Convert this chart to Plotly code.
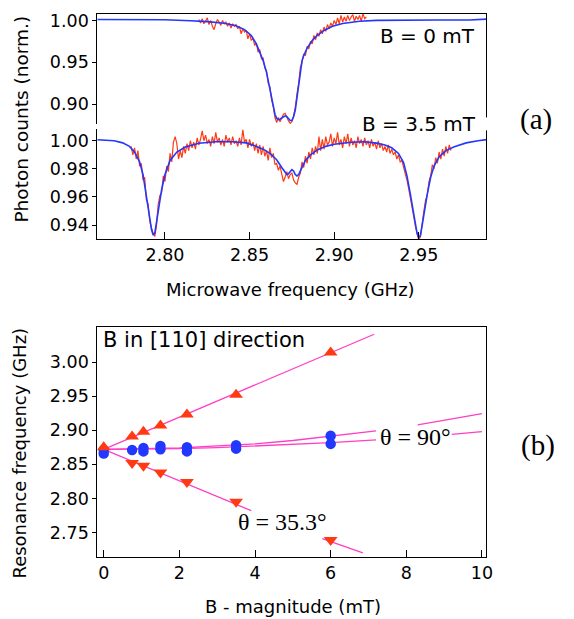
import numpy as np
import plotly.graph_objects as go

W, H = 574, 619

# ---------------- Panel (a): ODMR spectra ----------------
# B = 0 mT measured data (1 MHz sampling starting at 2.820 GHz)
red0_start = 2.820
red0_vals = [
    1.001, 0.997, 1.002, 0.996, 0.999, 1.003, 0.995, 1.000, 0.993, 0.989,
    0.996, 1.001, 0.998, 0.994, 1.000, 0.996, 0.998, 0.993, 0.997, 0.991,
    0.996, 0.993, 0.995, 0.990, 0.993, 0.984, 0.990, 0.986, 0.988, 0.978,
    0.984, 0.976, 0.979, 0.970, 0.973, 0.962, 0.965, 0.954, 0.955, 0.943,
    0.940, 0.925, 0.921, 0.905, 0.897, 0.884, 0.878, 0.884, 0.879, 0.883,
    0.888, 0.889, 0.884, 0.880, 0.877, 0.879, 0.886, 0.896, 0.912, 0.925,
    0.944, 0.950, 0.960, 0.958, 0.969, 0.966, 0.975, 0.972, 0.982, 0.977,
    0.985, 0.981, 0.989, 0.984, 0.992, 0.987, 0.995, 0.990, 0.997, 0.993,
    1.000, 0.995, 1.003, 0.996, 1.006, 0.998, 1.004, 0.999, 1.006, 1.000,
    1.004, 1.007, 0.999, 1.005, 1.001, 1.006, 0.999, 1.008, 1.002, 1.004,
]
# B = 0 mT fit
fit0_f = [2.760, 2.780, 2.800, 2.815, 2.825, 2.835, 2.842, 2.847, 2.851, 2.854,
          2.856, 2.858, 2.860, 2.862, 2.8635, 2.865, 2.866, 2.867, 2.868, 2.869,
          2.870, 2.871, 2.872, 2.873, 2.874, 2.875, 2.876, 2.877, 2.878, 2.879,
          2.880, 2.881, 2.882, 2.884, 2.887, 2.890, 2.894, 2.899, 2.905, 2.915,
          2.925, 2.940, 2.960, 2.980, 2.990]
fit0_v = [1.0010, 1.0010, 1.0008, 0.9995, 0.9985, 0.9965, 0.9935, 0.9890, 0.9820, 0.9720,
          0.9630, 0.9520, 0.9380, 0.9200, 0.9030, 0.8880, 0.8830, 0.8815, 0.8820, 0.8835,
          0.8850, 0.8860, 0.8850, 0.8825, 0.8805, 0.8805, 0.8850, 0.8930, 0.9080, 0.9270,
          0.9420, 0.9520, 0.9580, 0.9670, 0.9760, 0.9820, 0.9880, 0.9930, 0.9962, 0.9990,
          1.0000, 1.0005, 1.0005, 1.0005, 1.0015]

# B = 3.5 mT measured data (1 MHz sampling starting at 2.780 GHz)
red35_start = 2.780
red35_vals = [
    0.996, 0.990, 0.995, 0.987, 0.993, 0.982, 0.984, 0.972, 0.974, 0.958,
    0.955, 0.943, 0.938, 0.934, 0.932, 0.940, 0.955, 0.961, 0.963, 0.975,
    0.971, 0.982, 0.978, 0.991, 0.985, 0.999, 1.003, 0.998, 0.987, 0.993,
    0.988, 0.996, 0.991, 0.998, 0.993, 1.000, 0.995, 0.999, 0.994, 1.002,
    0.997, 1.001, 1.007, 1.000, 1.004, 0.998, 1.001, 0.996, 1.003, 0.998,
    1.006, 0.999, 1.002, 0.997, 1.001, 0.996, 1.004, 0.999, 1.002, 0.997,
    1.003, 0.998, 1.000, 0.996, 1.002, 0.997, 1.008, 0.999, 1.001, 0.995,
    1.001, 0.996, 0.999, 0.993, 0.998, 0.991, 0.997, 0.990, 0.996, 0.989,
    0.993, 0.986, 0.995, 0.988, 0.991, 0.983, 0.984, 0.979, 0.982, 0.975,
    0.971, 0.974, 0.978, 0.973, 0.976, 0.977, 0.972, 0.970, 0.969, 0.974,
    0.977, 0.985, 0.981, 0.989, 0.984, 0.992, 0.987, 0.995, 0.990, 0.996,
    0.991, 1.003, 0.993, 1.001, 0.994, 1.003, 0.997, 0.999, 1.005, 0.996,
    1.002, 0.998, 1.006, 0.997, 1.001, 0.995, 1.003, 0.998, 1.005, 0.996,
    1.002, 0.997, 1.000, 0.995, 1.003, 0.998, 1.001, 0.996, 1.002, 0.997,
    1.000, 0.995, 1.001, 0.996, 0.999, 0.994, 1.000, 0.995, 0.998, 0.993,
    0.996, 0.992, 0.997, 0.991, 0.994, 0.990, 0.992, 0.987, 0.990, 0.985,
    0.986, 0.981, 0.977, 0.972, 0.966, 0.960, 0.952, 0.946, 0.939, 0.933,
    0.929, 0.932, 0.943, 0.950, 0.958, 0.961, 0.971, 0.975, 0.983, 0.980,
    0.988, 0.984, 0.992, 0.987, 0.994, 0.989, 0.996, 0.991, 0.997, 0.993,
]
# B = 3.5 mT fit
fit35_f = [2.760, 2.770, 2.775, 2.779, 2.782, 2.785, 2.787, 2.789, 2.791, 2.792,
           2.793, 2.794, 2.795, 2.796, 2.798, 2.800, 2.803, 2.807, 2.812, 2.820,
           2.830, 2.840, 2.848, 2.853, 2.858, 2.862, 2.866, 2.869, 2.871, 2.872,
           2.873, 2.874, 2.875, 2.876, 2.877, 2.878, 2.879, 2.881, 2.883, 2.886,
           2.890, 2.895, 2.900, 2.910, 2.918, 2.925, 2.930, 2.934, 2.938, 2.941,
           2.943, 2.945, 2.947, 2.948, 2.949, 2.950, 2.951, 2.952, 2.953, 2.955,
           2.957, 2.959, 2.962, 2.966, 2.971, 2.978, 2.985, 2.990]
fit35_v = [1.0007, 1.0000, 0.9985, 0.9960, 0.9920, 0.9850, 0.9760, 0.9620, 0.9450, 0.9370,
           0.9330, 0.9345, 0.9420, 0.9510, 0.9650, 0.9760, 0.9860, 0.9920, 0.9955, 0.9982,
           0.9993, 0.9993, 0.9985, 0.9965, 0.9940, 0.9910, 0.9865, 0.9810, 0.9770, 0.9760,
           0.9765, 0.9785, 0.9795, 0.9785, 0.9760, 0.9750, 0.9760, 0.9810, 0.9860, 0.9900,
           0.9935, 0.9960, 0.9975, 0.9990, 0.9993, 0.9983, 0.9970, 0.9950, 0.9910, 0.9845,
           0.9750, 0.9620, 0.9480, 0.9410, 0.9340, 0.9310, 0.9330, 0.9400, 0.9480, 0.9620,
           0.9740, 0.9820, 0.9885, 0.9930, 0.9958, 0.9985, 1.0000, 1.0008]

freq_ticks = [2.80, 2.85, 2.90, 2.95]
top_ticks = [0.90, 0.95, 1.00]
bot_ticks = [0.94, 0.96, 0.98, 1.00]

# ---------------- Panel (b): resonance frequency vs B ----------------
B_up = [0.0, 0.75, 1.05, 1.5, 2.2, 3.5, 6.0]
f_up = [2.875, 2.891, 2.898, 2.907, 2.923, 2.952, 3.014]
B_dn = [0.75, 1.05, 1.5, 2.2, 3.5, 6.0]
f_dn = [2.852, 2.848, 2.838, 2.824, 2.795, 2.739]
B_90 = [0.0, 0.0, 0.75, 1.05, 1.05, 1.5, 1.5, 2.2, 2.2, 3.5, 3.5, 6.0, 6.0]
f_90 = [2.871, 2.866, 2.871, 2.874, 2.869, 2.877, 2.872, 2.875, 2.869, 2.878, 2.873, 2.892, 2.880]

# theory curves (gaps where labels sit)
line_up_B = [0, 1, 2, 3, 4, 5, 6, 7.15]
line_up_f = [2.872, 2.8955, 2.919, 2.943, 2.966, 2.990, 3.014, 3.041]
line_dn_B = [0, 1, 2, 3, 3.9, None, 5.78, 6.85]
line_dn_f = [2.872, 2.849, 2.826, 2.803, 2.782, None, 2.741, 2.720]
line_90a_B = [0, 1, 2, 3, 4, 5, 6, 7.2, None, 8.3, 9, 10]
line_90a_f = [2.872, 2.8725, 2.874, 2.877, 2.880, 2.885, 2.891, 2.899, None, 2.908, 2.915, 2.9245]
line_90b_B = [0, 1, 2, 3, 4, 5, 6, 7.2, None, 9.2, 10]
line_90b_f = [2.872, 2.8723, 2.873, 2.8745, 2.877, 2.879, 2.882, 2.886, None, 2.894, 2.898]

B_ticks = [0, 2, 4, 6, 8, 10]
res_ticks = [2.75, 2.80, 2.85, 2.90, 2.95, 3.00]

RED = "#ff3a12"
BLUE = "#2238ff"
PINK = "#ff3fc4"


def px(x):
    return x / W


def py(y):
    return 1 - y / H


red0_f = red0_start + 0.001 * np.arange(len(red0_vals))
red35_f = red35_start + 0.001 * np.arange(len(red35_vals))

fig = go.Figure()
# top spectrum (B = 0)
fig.add_trace(go.Scatter(x=red0_f, y=red0_vals, mode="lines", line=dict(color=RED, width=1.2),
                         xaxis="x2", yaxis="y2"))
fig.add_trace(go.Scatter(x=fit0_f, y=fit0_v, mode="lines", line=dict(color=BLUE, width=1.6),
                         xaxis="x2", yaxis="y2"))
# bottom spectrum (B = 3.5)
fig.add_trace(go.Scatter(x=red35_f, y=red35_vals, mode="lines", line=dict(color=RED, width=1.2),
                         xaxis="x", yaxis="y"))
fig.add_trace(go.Scatter(x=fit35_f, y=fit35_v, mode="lines", line=dict(color=BLUE, width=1.6),
                         xaxis="x", yaxis="y"))
# panel b lines
for bx, fy in [(line_up_B, line_up_f), (line_dn_B, line_dn_f),
               (line_90a_B, line_90a_f), (line_90b_B, line_90b_f)]:
    fig.add_trace(go.Scatter(x=bx, y=fy, mode="lines", line=dict(color=PINK, width=1.3),
                             connectgaps=False, xaxis="x3", yaxis="y3"))
# panel b markers
fig.add_trace(go.Scatter(x=B_90, y=f_90, mode="markers",
                         marker=dict(symbol="circle", size=10.5, color=BLUE),
                         xaxis="x3", yaxis="y3"))
fig.add_trace(go.Scatter(x=B_up, y=f_up, mode="markers",
                         marker=dict(symbol="triangle-up", size=12, color=RED),
                         xaxis="x3", yaxis="y3"))
fig.add_trace(go.Scatter(x=B_dn, y=f_dn, mode="markers",
                         marker=dict(symbol="triangle-down", size=12, color=RED),
                         xaxis="x3", yaxis="y3"))

xdom = [px(98.5), px(492.5)]
common_axis = dict(showline=True, linecolor="black", linewidth=1, showgrid=False,
                   zeroline=False, tickcolor="black", tickfont=dict(size=17.5))

fig.update_layout(
    width=W, height=H, margin=dict(l=0, r=0, t=0, b=0),
    paper_bgcolor="white", plot_bgcolor="white", showlegend=False,
    font=dict(family="DejaVu Sans", size=17.5, color="black"),
    xaxis=dict(domain=xdom, anchor="y", range=[2.76, 2.99], tickvals=freq_ticks,
               tickformat=".2f", ticks="inside", ticklen=7, ticklabelstandoff=0, **common_axis),
    yaxis=dict(domain=[py(237), py(127)], anchor="x", range=[0.9302, 1.0081],
               tickvals=bot_ticks, tickformat=".2f", ticks="outside", ticklen=4,
               mirror=True, **common_axis),
    xaxis2=dict(domain=xdom, anchor="y2", matches="x", side="top", showticklabels=False,
                ticks="", **common_axis),
    yaxis2=dict(domain=[py(122), py(11)], anchor="x2", range=[0.8758, 1.0077],
                tickvals=top_ticks, tickformat=".2f", ticks="outside", ticklen=4,
                mirror=True, **common_axis),
    xaxis3=dict(domain=xdom, anchor="y3", range=[-0.17, 10.12], tickvals=B_ticks,
                ticks="inside", ticklen=7, mirror=True, ticklabelstandoff=0, **common_axis),
    yaxis3=dict(domain=[py(557), py(326)], anchor="x3", range=[2.7135, 3.051],
                tickvals=res_ticks, tickformat=".2f", ticks="outside", ticklen=4,
                mirror=True, **common_axis),
)

# white gap in the right border behind "B = 3.5 mT"
fig.add_shape(type="rect", xref="paper", yref="paper", x0=px(486), x1=px(499),
              y0=py(128), y1=py(115), fillcolor="white", line=dict(width=0), layer="above")

sans = "DejaVu Sans"
serif = "Liberation Serif"
ann = [
    dict(text="B = 0 mT", x=px(433), y=py(33), font=dict(family=sans, size=20)),
    dict(text="B = 3.5 mT", x=px(424), y=py(122), font=dict(family=sans, size=20)),
    dict(text="(a)", x=px(543), y=py(117), font=dict(family=serif, size=29)),
    dict(text="(b)", x=px(545), y=py(445), font=dict(family=serif, size=29)),
    dict(text="B in [110] direction", x=px(102.5), y=py(339), xanchor="left",
         font=dict(family=sans, size=21)),
    dict(text="θ = 90°", x=px(421), y=py(436), font=dict(family=serif, size=24)),
    dict(text="θ = 35.3°", x=px(285.5), y=py(521.7), font=dict(family=serif, size=24)),
    dict(text="Microwave frequency (GHz)", x=px(294), y=py(288), font=dict(family=sans, size=18)),
    dict(text="B - magnitude (mT)", x=px(296.7), y=py(606.7), font=dict(family=sans, size=18)),
    dict(text="Photon counts (norm.)", x=px(21.7), y=py(116.7), textangle=-90,
         font=dict(family=sans, size=18.5)),
    dict(text="Resonance frequency (GHz)", x=px(20), y=py(452), textangle=-90,
         font=dict(family=sans, size=18)),
]
for a in ann:
    a.setdefault("xanchor", "center")
    fig.add_annotation(xref="paper", yref="paper", showarrow=False, yanchor="middle",
                       font_color="black", **a)

fig.write_html("out.html", config={"displayModeBar": False},
               post_script="document.body.style.margin='0';document.body.style.overflow='hidden';")
